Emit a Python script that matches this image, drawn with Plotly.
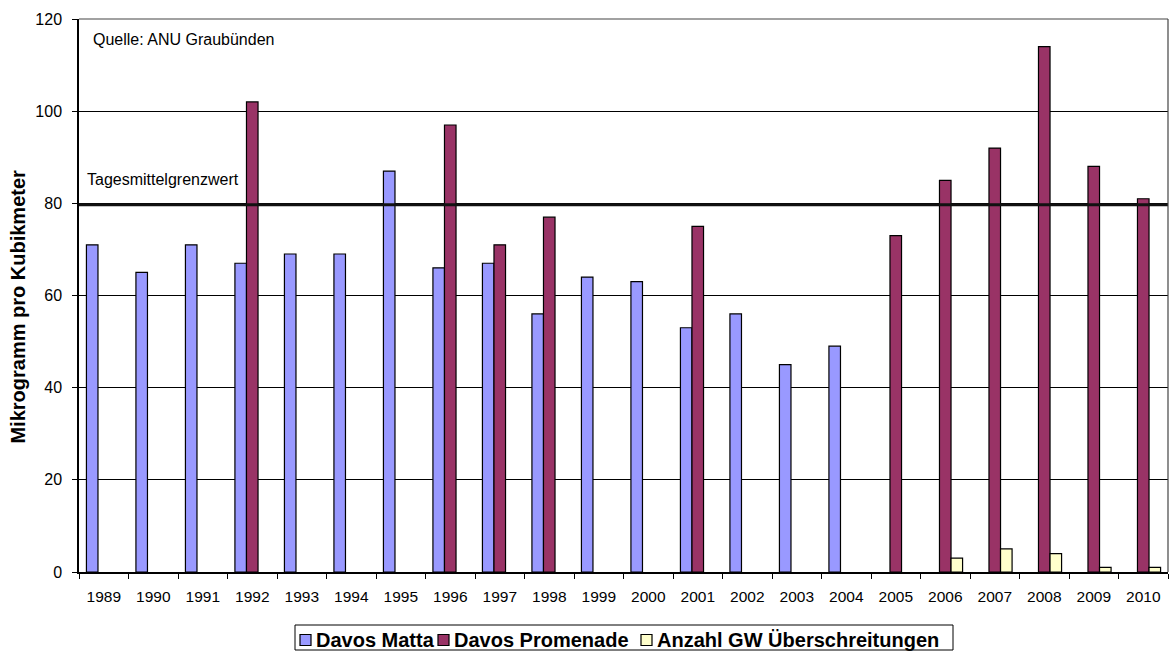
import plotly.graph_objects as go

# PM10 daily-mean maxima per year (µg/m³) and number of limit exceedances
jahre = ["1989", "1990", "1991", "1992", "1993", "1994", "1995", "1996", "1997", "1998", "1999",
         "2000", "2001", "2002", "2003", "2004", "2005", "2006", "2007", "2008", "2009", "2010"]
davos_matta = [71, 65, 71, 67, 69, 69, 87, 66, 67, 56, 64,
               63, 53, 56, 45, 49, None, None, None, None, None, None]
davos_promenade = [None, None, None, 102, None, None, None, 97, 71, 77, None,
                   None, 75, None, None, None, 73, 85, 92, 114, 88, 81]
anzahl_gw = [None, None, None, None, None, None, None, None, None, None, None,
             None, None, None, None, None, None, 3, 5, 4, 1, 1]
grenzwert = 79.7
y_ticks = [0, 20, 40, 60, 80, 100, 120]

FONT = "Liberation Sans, Arial, sans-serif"
W, H = 1174, 652
M_L, M_R, M_T, M_B = 79, 6, 19, 80


def px_x(p):
    """pixel column -> paper x"""
    return (p - M_L) / (W - M_L - M_R)


def px_y(p):
    """pixel row -> paper y"""
    return (H - M_B - p) / (H - M_T - M_B)


fig = go.Figure()
series = [
    ("Davos Matta", davos_matta, "#9999FF"),
    ("Davos Promenade", davos_promenade, "#993366"),
    ("Anzahl GW Überschreitungen", anzahl_gw, "#FFFFCC"),
]
for name, vals, col in series:
    fig.add_trace(go.Bar(
        x=jahre, y=vals, name=name, showlegend=False,
        marker=dict(color=col, line=dict(color="black", width=1.2)),
    ))

# daily-mean limit line
fig.add_shape(type="line", xref="paper", x0=0, x1=1, yref="y", y0=grenzwert, y1=grenzwert,
              line=dict(color="#111111", width=3), layer="above")

fig.add_annotation(text="Tagesmittelgrenzwert", xref="paper", x=0.0055, xanchor="left",
                   yref="y", y=grenzwert + 3.1, yanchor="bottom", showarrow=False,
                   font=dict(family=FONT, size=16, color="black"))
fig.add_annotation(text="Quelle: ANU Graubünden", xref="paper", x=0.011, xanchor="left",
                   yref="paper", y=0.982, yanchor="top", showarrow=False,
                   font=dict(family=FONT, size=16, color="black"))

# y-axis title
fig.add_annotation(text="<b>Mikrogramm pro Kubikmeter</b>", textangle=-90,
                   xref="paper", x=0, xanchor="center", xshift=-61,
                   yref="paper", y=0.48, yanchor="middle", showarrow=False,
                   font=dict(family=FONT, size=20, color="black"))

# legend box below the chart: frame, colour squares and series names
fig.add_shape(type="rect", xref="paper", yref="paper",
              x0=px_x(295), x1=px_x(953), y0=px_y(650), y1=px_y(625),
              line=dict(color="black", width=1), fillcolor="white")
legend_pos = [(300, 315), (438, 453), (641, 656)]
for (name, _, col), (sx, tx) in zip(series, legend_pos):
    fig.add_shape(type="rect", xref="paper", yref="paper",
                  x0=px_x(sx), x1=px_x(sx + 11), y0=px_y(645.5), y1=px_y(634.5),
                  line=dict(color="black", width=1.2), fillcolor=col)
    fig.add_annotation(text=f"<b>{name}</b>", xref="paper", x=px_x(tx), xanchor="left",
                       yref="paper", y=px_y(639.5), yanchor="middle", showarrow=False,
                       borderpad=0, font=dict(family=FONT, size=20, color="black"))

fig.update_layout(
    width=W, height=H,
    margin=dict(l=M_L, r=M_R, t=M_T, b=M_B),
    paper_bgcolor="white", plot_bgcolor="white",
    barmode="group", bargap=0.3, bargroupgap=0,
    font=dict(family=FONT, size=15, color="black"),
    showlegend=False,
    xaxis=dict(
        showline=True, linecolor="black", linewidth=1.5,
        ticks="outside", ticklen=5, tickcolor="black", tickson="boundaries",
        ticklabelstandoff=10, automargin=False,
        showgrid=False, tickfont=dict(family=FONT, size=15.5), mirror=False,
    ),
    yaxis=dict(
        range=[0, 120], tickvals=y_ticks,
        showline=True, linecolor="black", linewidth=1.5,
        ticks="outside", ticklen=5, tickcolor="black", ticklabelstandoff=7,
        showgrid=True, gridcolor="black", gridwidth=1,
        zeroline=False, tickfont=dict(family=FONT, size=16),
        automargin=False,
    ),
)

# thin frame on top and right side of the plot area
fig.add_shape(type="line", xref="paper", yref="paper", x0=0, x1=1, y0=1, y1=1,
              line=dict(color="#444444", width=1.2))
fig.add_shape(type="line", xref="paper", yref="paper", x0=1, x1=1, y0=0, y1=1,
              line=dict(color="#444444", width=1.2))

fig.write_html("out.html")
